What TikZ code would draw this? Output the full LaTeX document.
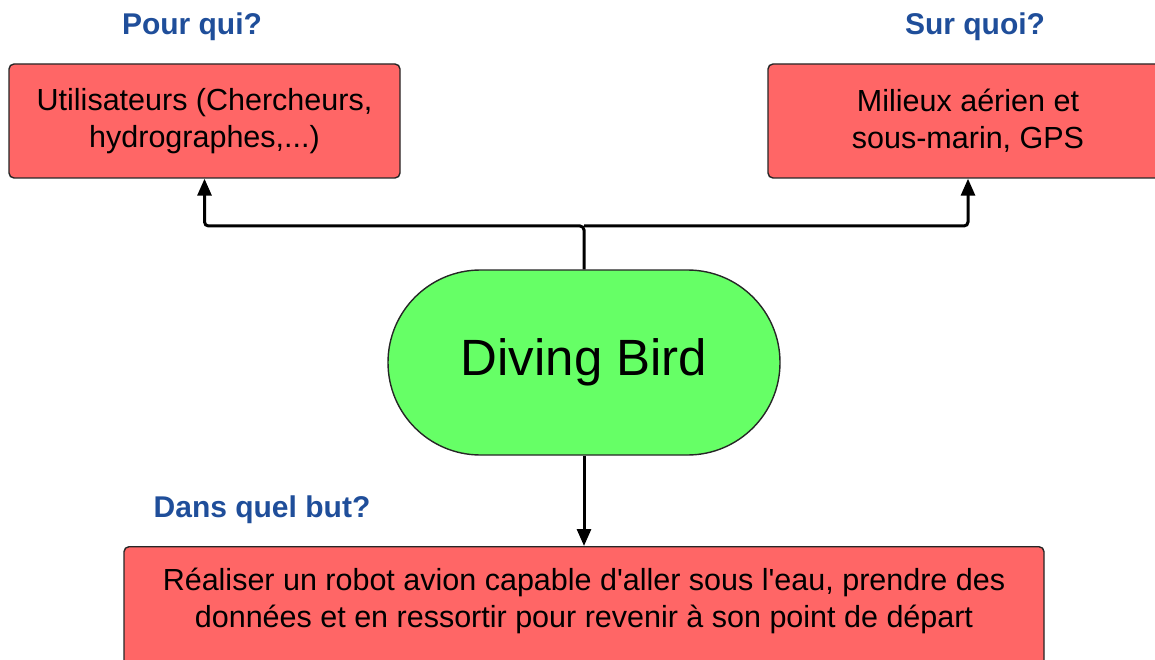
\documentclass[tikz,border=0pt]{standalone}
\usepackage{fontspec}
\setmainfont{Liberation Sans}[Ligatures=TeXOff]
\usetikzlibrary{arrows.meta,shapes.misc}
\definecolor{boxred}{HTML}{FF6666}
\definecolor{birdgreen}{HTML}{66FF66}
\definecolor{qblue}{HTML}{1F4E9A}
\begin{document}
\begin{tikzpicture}[x=1pt,y=-1pt,
  redbox/.style={draw=black!85, line width=1.4pt, fill=boxred, rounded corners=5pt,
    align=center, inner sep=0pt, font=\fontsize{30.5}{37}\selectfont},
  question/.style={text=qblue, font=\fontsize{30}{34}\selectfont\bfseries, inner sep=0pt},
  link/.style={line width=3pt, rounded corners=4pt, -{Triangle[length=17pt,width=14pt]}}]
\useasboundingbox (0,0) rectangle (1155,660);
\node[question] (qpour) at (192,27) {Pour qui?};
\node[question] (qsur) at (975,27) {Sur quoi?};
\node[question] (qbut) at (262,510) {Dans quel but?};
\node[redbox, minimum width=391pt, minimum height=114pt] (users) at (204.5,121)
  {Utilisateurs (Chercheurs,\\hydrographes,...)};
\node[redbox, minimum width=400pt, minimum height=114pt] (milieux) at (968,121)
  {Milieux aérien et\\sous-marin, GPS};
\node[redbox, minimum width=920pt, minimum height=130pt, anchor=north] (goal) at (584,546) {};
\node[align=center, font=\fontsize{30.5}{37}\selectfont, inner sep=0pt] (goaltext) at (584,601)
  {Réaliser un robot avion capable d'aller sous l'eau, prendre des\\données et en ressortir pour revenir à son point de départ};
\node[draw=black!85, line width=1.4pt, fill=birdgreen, rounded rectangle,
  minimum width=392pt, minimum height=185pt, inner sep=0pt,
  font=\fontsize{51}{60}\selectfont] (bird) at (584,362.5) {Diving Bird};
\coordinate (fork) at (584,226);
\draw[link] (bird.north) -- (fork) -| (users.south);
\draw[link] (fork) -| (milieux.south);
\draw[link] (bird.south) -- (goal.north);
\end{tikzpicture}
\end{document}
